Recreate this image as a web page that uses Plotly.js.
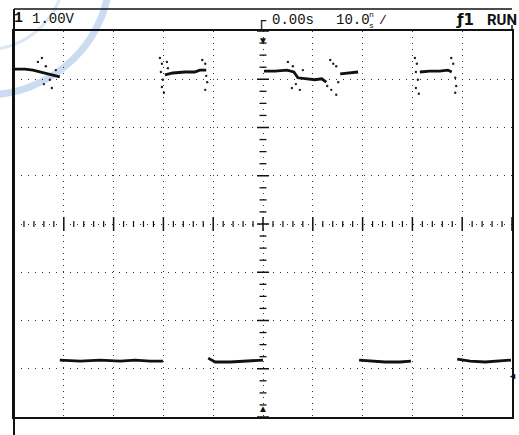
<!DOCTYPE html>
<html><head><meta charset="utf-8">
<script src="https://cdn.plot.ly/plotly-3.0.1.min.js"></script>
<style>html,body{margin:0;padding:0;background:#fff}#chart{width:519px;height:435px}</style>
</head><body><div id="chart"></div>
<script>
// Time axis in ns (10 ns/div, trigger at centre), voltage in V (1.00 V/div, ground marker at 0 V)
const timeNs = [
  -50.0,-47.8,-46.2,-44.8,-43.2,-41.8,-40.8, null,
  -40.8,-36.7,-32.7,-28.7,-25.7,-22.7,-20.1, null,
  -19.7,-18.1,-15.7,-13.7,-12.7,-11.4, null,
  -11.0,-9.6,-6.6,-3.6,0.0, null,
  0.2,2.4,4.8,6.2, 7.0,8.4,10.4,11.8,12.7, null,
  15.5,17.5,19.1, null,
  19.3,21.5,24.5,27.5,29.7, null,
  31.5,33.5,35.5,37.1,37.9, null,
  39.0,41.6,44.6,47.6,49.8
];
const volts = [
  6.36,6.36,6.34,6.30,6.26,6.22,6.20, null,
  0.33,0.31,0.33,0.31,0.33,0.31,0.31, null,
  6.24,6.28,6.30,6.30,6.34,6.34, null,
  0.37,0.29,0.29,0.31,0.33, null,
  6.32,6.32,6.34,6.30, 6.18,6.16,6.14,6.16,6.09, null,
  6.26,6.28,6.30, null,
  0.33,0.31,0.29,0.29,0.31, null,
  6.30,6.32,6.32,6.34,6.30, null,
  0.35,0.31,0.29,0.31,0.33
];
// scattered sample dots around the edges
const noiseTimeNs = [-45.2,-44.4,-43.6,-42.8,-44.0,-42.4,-41.6,
  -20.7,-20.3,-20.5,-20.1,-20.3,-19.9,-19.3,-19.1,
  -12.2,-11.6,-11.4,-11.2,-11.6,
  5.0,6.0,6.6,5.8,7.4,8.0,
  13.5,14.1,14.7,12.9,13.7,14.7,15.1,
  30.5,30.9,30.7,31.1,30.7,31.3,
  37.8,38.2,38.6,38.8,38.6];
const noiseVolts = [6.51,6.59,6.42,6.14,6.05,5.97,6.34,
  6.59,6.47,6.30,6.14,5.99,5.87,6.51,6.38,
  6.55,6.47,6.22,6.09,5.93,
  6.51,6.42,6.05,5.97,5.93,6.34,
  6.55,6.47,6.42,6.01,5.93,5.83,6.09,
  6.59,6.47,6.30,6.14,5.97,5.85,
  6.59,6.47,6.18,6.01,5.87];

const voltsPerDiv = 1.0, nsPerDiv = 10;
const groundDivBelowCentre = 3.15;
const centreV = groundDivBelowCentre * voltsPerDiv;
const yLo = centreV - 4 * voltsPerDiv, yHi = centreV + 4 * voltsPerDiv;

const shapes = [];
// centre graticule ticks along horizontal centre line (5 per div)
for (let i = 0; i <= 50; i++) {
  const t = -50 + i * nsPerDiv / 5;
  const major = (i % 5 === 0);
  const h = (major ? 7 : 3) / 48.25;
  shapes.push({type:'line', xref:'x', yref:'y', x0:t, x1:t, y0:centreV-h, y1:centreV+h,
    line:{color:'#111', width: major ? 1.5 : 1.2}});
}
// ticks along vertical centre line (4 per div)
for (let i = 0; i <= 32; i++) {
  const v = yLo + i * voltsPerDiv / 4;
  const major = (i % 4 === 0);
  const w = (major ? 6 : 3.5) / 4.98;
  shapes.push({type:'line', xref:'x', yref:'y', x0:-w, x1:w, y0:v, y1:v,
    line:{color:'#111', width: major ? 1.5 : 1.3}});
}
// header frame
const pxX = p => (p - 14) / 498, pxY = p => (417 - p) / 386;
shapes.push({type:'line', xref:'paper', yref:'paper', x0:0, x1:1, y0:pxY(9), y1:pxY(9), line:{color:'#111', width:1.5}});
shapes.push({type:'line', xref:'paper', yref:'paper', x0:0, x1:0, y0:pxY(435), y1:pxY(9), line:{color:'#111', width:2}});
shapes.push({type:'line', xref:'paper', yref:'paper', x0:1, x1:1, y0:1, y1:pxY(25), line:{color:'#111', width:1.5}});
// faint watermark (seal partly visible in top-left corner)
shapes.push({type:'circle', xref:'paper', yref:'paper', x0:pxX(-140), x1:pxX(110), y0:pxY(95), y1:pxY(-150),
  line:{color:'rgba(140,175,225,0.45)', width:7}, layer:'below'});
shapes.push({type:'circle', xref:'paper', yref:'paper', x0:pxX(-95), x1:pxX(65), y0:pxY(50), y1:pxY(-110),
  line:{color:'rgba(140,175,225,0.3)', width:3}, layer:'below'});

const mono = 'Liberation Mono, DejaVu Sans Mono, monospace';
const ann = (text, x, y, opts={}) => Object.assign({text, xref:'paper', yref:'paper', x:pxX(x), y:pxY(y),
  xanchor:'left', yanchor:'middle', showarrow:false, borderpad:0, font:{family:mono, size:14, color:'#111'}}, opts);
const annotations = [
  ann('<b>1</b>', 13, 19, {font:{family:mono, size:15, color:'#111'}}),
  ann('1.00V', 31, 19),
  ann('┌', 256, 21, {font:{family:'DejaVu Sans Mono', size:15, color:'#111'}}),
  ann('0.00s', 271, 20),
  ann('10.0', 335, 20),
  ann('n', 368, 14, {font:{family:mono, size:8, color:'#111'}}),
  ann('s', 368, 26, {font:{family:mono, size:8, color:'#111'}}),
  ann('/', 378, 21, {font:{family:mono, size:13, color:'#111'}}),
  ann('<b>ƒ1</b>', 455, 20, {font:{family:'DejaVu Sans', size:15, color:'#111'}}),
  ann('<b>RUN</b>', 486, 20, {font:{family:'Liberation Sans Narrow, Roboto, sans-serif', size:15, color:'#111'}}),
  // trigger position markers
  {text:'▼', xref:'x', yref:'paper', x:0, y:1, yanchor:'top', showarrow:false, font:{size:10, color:'#111'}},
  {text:'▲', xref:'x', yref:'paper', x:0, y:0, yanchor:'bottom', showarrow:false, font:{size:10, color:'#111'}},
  // ground marker
  {text:'<b>◄</b>', xref:'paper', yref:'y', x:pxX(519), y:0, xanchor:'right', showarrow:false, font:{size:9, color:'#111'}}
];

const data = [
  {x: timeNs, y: volts, type:'scatter', mode:'lines', connectgaps:false,
   line:{color:'#111', width:2.8}, hoverinfo:'skip'},
  {x: noiseTimeNs, y: noiseVolts, type:'scatter', mode:'markers',
   marker:{color:'#222', size:2.4}, hoverinfo:'skip'}
];

const axisCommon = {showgrid:true, gridcolor:'#333', gridwidth:1, zeroline:false,
  showticklabels:false, ticks:'', showline:true, mirror:true, linecolor:'#111', linewidth:2, fixedrange:true};
const layout = {
  width:519, height:435, margin:{l:14, r:7, t:31, b:18}, showlegend:false,
  paper_bgcolor:'#fff', plot_bgcolor:'#fff',
  xaxis: Object.assign({}, axisCommon, {range:[-50, 50], tick0:-50, dtick:nsPerDiv, griddash:'1px,5px'}),
  yaxis: Object.assign({}, axisCommon, {range:[yLo, yHi], tick0:yLo, dtick:voltsPerDiv, griddash:'1px,6px'}),
  shapes, annotations
};
Plotly.newPlot('chart', data, layout, {staticPlot:true, displayModeBar:false});
</script></body></html>
